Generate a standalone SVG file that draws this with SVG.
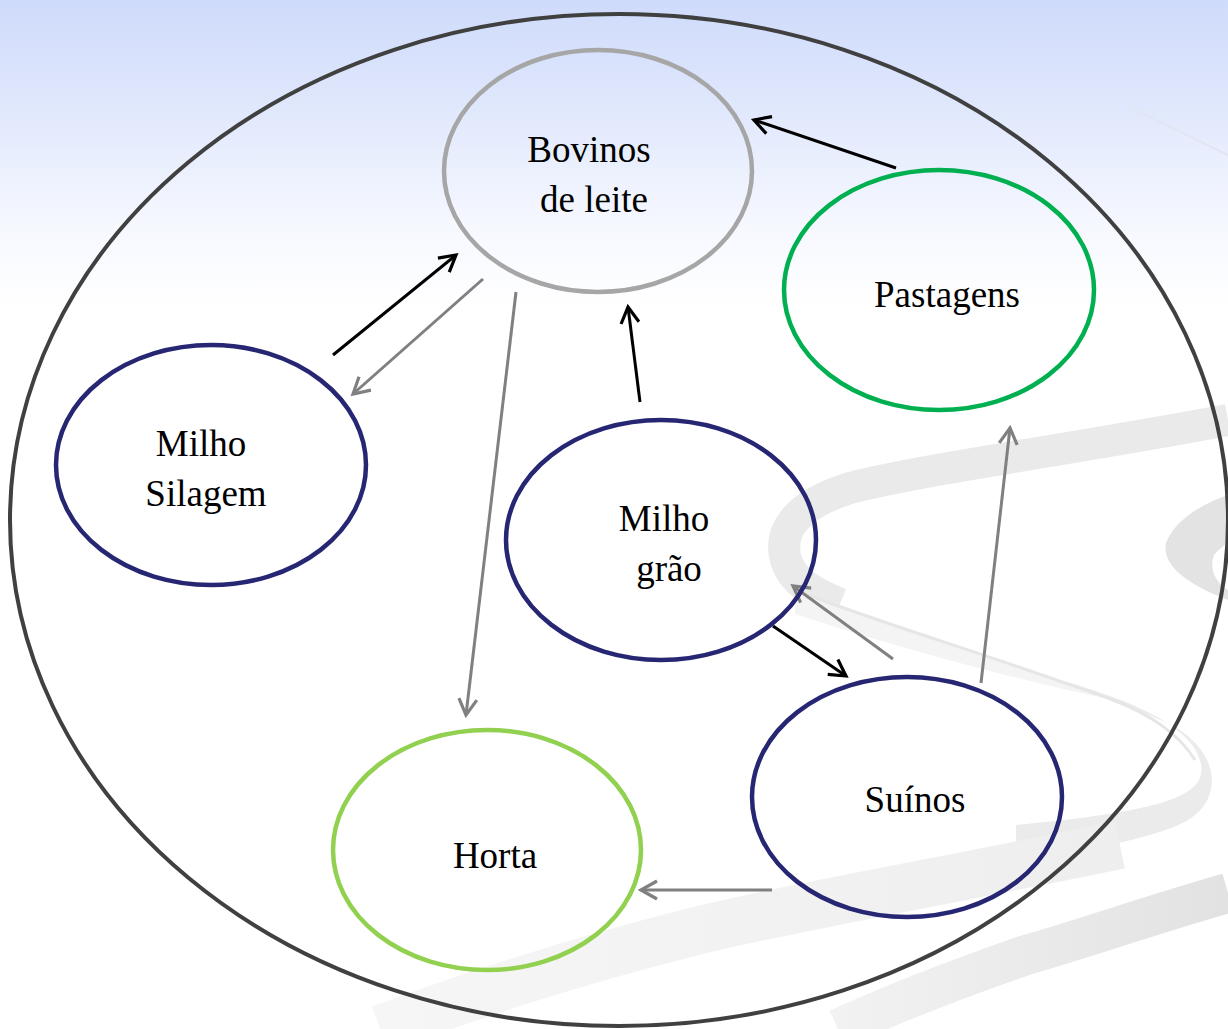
<svg xmlns="http://www.w3.org/2000/svg" width="1228" height="1029" viewBox="0 0 1228 1029">
<defs>
<linearGradient id="bg" x1="0" y1="0" x2="0" y2="1">
<stop offset="0" stop-color="#cfdbfb"/>
<stop offset="0.1" stop-color="#dfe7fc"/>
<stop offset="0.22" stop-color="#f6f8ff"/>
<stop offset="0.3" stop-color="#ffffff"/>
</linearGradient>
<linearGradient id="sw" x1="0" y1="0" x2="1" y2="0">
<stop offset="0" stop-color="#f2f2f2"/>
<stop offset="1" stop-color="#e2e2e2"/>
</linearGradient>
<linearGradient id="sw2" x1="0" y1="0" x2="1" y2="0">
<stop offset="0" stop-color="#f6f6f6"/>
<stop offset="1" stop-color="#eeeeee"/>
</linearGradient>
<marker id="ak" markerUnits="userSpaceOnUse" markerWidth="26" markerHeight="26" viewBox="0 0 26 26" refX="23" refY="13" orient="auto">
<path d="M7,4 L23,13 L7,22" fill="none" stroke="#000" stroke-width="3.2"/>
</marker>
<marker id="ag" markerUnits="userSpaceOnUse" markerWidth="26" markerHeight="26" viewBox="0 0 26 26" refX="23" refY="13" orient="auto">
<path d="M7,4 L23,13 L7,22" fill="none" stroke="#808080" stroke-width="3.2"/>
</marker>
</defs>
<style>
.node{fill:none;stroke-width:4.5}
.lbl{font-family:"Liberation Serif","Times New Roman",serif;font-size:37px;fill:#000;text-anchor:middle}
.k{stroke:#000;stroke-width:3;fill:none;marker-end:url(#ak)}
.g{stroke:#808080;stroke-width:3;fill:none;marker-end:url(#ag)}
.band{fill:none;stroke-linecap:butt}
</style>
<rect x="0" y="0" width="1228" height="1029" fill="url(#bg)"/>
<g id="background-swooshes">
<path class="band" d="M1228,420 C1080,448 930,468 850,488 C795,505 778,532 786,560 C792,580 810,592 840,604" stroke="#eaeaea" stroke-width="32"/>
<path d="M795,590 C870,620 990,655 1113,700 C1000,676 880,642 795,614 Z" fill="#f4f4f4"/>
<path d="M1060,680 C1130,700 1190,725 1200,760 C1210,795 1170,810 1016,825 L1016,862 C1120,845 1175,832 1195,815 C1225,790 1215,745 1165,722 C1130,706 1095,692 1060,680 Z" fill="#ebebeb"/>
<path d="M795,590 C870,620 990,655 1113,700 C1150,714 1180,735 1195,760" fill="none" stroke="#e6e6e6" stroke-width="3"/>
<path d="M1228,495 C1200,505 1175,520 1166,543 C1162,562 1180,582 1228,600 L1228,590 C1212,580 1210,565 1214,555 C1218,550 1222,547 1228,543 Z" fill="#e3e3e3"/>
<path class="band" d="M1120,845 C950,880 780,910 700,930 C560,965 460,1000 380,1029" stroke="url(#sw2)" stroke-width="48"/>
<path class="band" d="M1228,893 C1150,915 1080,940 1026,955 C960,978 890,1005 838,1029" stroke="url(#sw)" stroke-width="40"/>
<path d="M1130,107 L1228,155" stroke="#e3e6f0" stroke-width="2"/>
</g>
<ellipse id="outer" cx="619" cy="520" rx="609" ry="506" fill="none" stroke="#404040" stroke-width="4"/>
<g id="connectors">
<line class="k" x1="896" y1="168" x2="754" y2="120"/>
<line class="k" x1="333" y1="355" x2="456" y2="255"/>
<line class="g" x1="483" y1="279" x2="353" y2="394"/>
<line class="g" x1="516" y1="292" x2="466" y2="715"/>
<line class="k" x1="640" y1="402" x2="628" y2="307"/>
<line class="k" x1="773" y1="626" x2="846" y2="676"/>
<line class="g" x1="893" y1="659" x2="793" y2="586"/>
<line class="g" x1="981" y1="683" x2="1010" y2="428"/>
<line class="g" x1="772" y1="890" x2="641" y2="890"/>
</g>
<g id="bovinos">
<ellipse class="node" cx="598" cy="171" rx="154" ry="121" stroke="#a6a6a6"/>
<text class="lbl" x="589" y="162">Bovinos</text>
<text class="lbl" x="594" y="212">de leite</text>
</g>
<g id="pastagens">
<ellipse class="node" cx="939" cy="290" rx="155" ry="120" stroke="#00b050"/>
<text class="lbl" x="947" y="307">Pastagens</text>
</g>
<g id="milho-silagem">
<ellipse class="node" cx="211" cy="465" rx="155" ry="120" stroke="#262673"/>
<text class="lbl" x="201" y="456">Milho</text>
<text class="lbl" x="206" y="506">Silagem</text>
</g>
<g id="milho-grao">
<ellipse class="node" cx="661" cy="540" rx="155" ry="120" stroke="#262673"/>
<text class="lbl" x="664" y="531">Milho</text>
<text class="lbl" x="669" y="581">grão</text>
</g>
<g id="suinos">
<ellipse class="node" cx="907" cy="797" rx="155" ry="120" stroke="#262673"/>
<text class="lbl" x="915" y="812">Suínos</text>
</g>
<g id="horta">
<ellipse class="node" cx="487" cy="850" rx="154" ry="120" stroke="#92d050"/>
<text class="lbl" x="495" y="868">Horta</text>
</g>
</svg>
